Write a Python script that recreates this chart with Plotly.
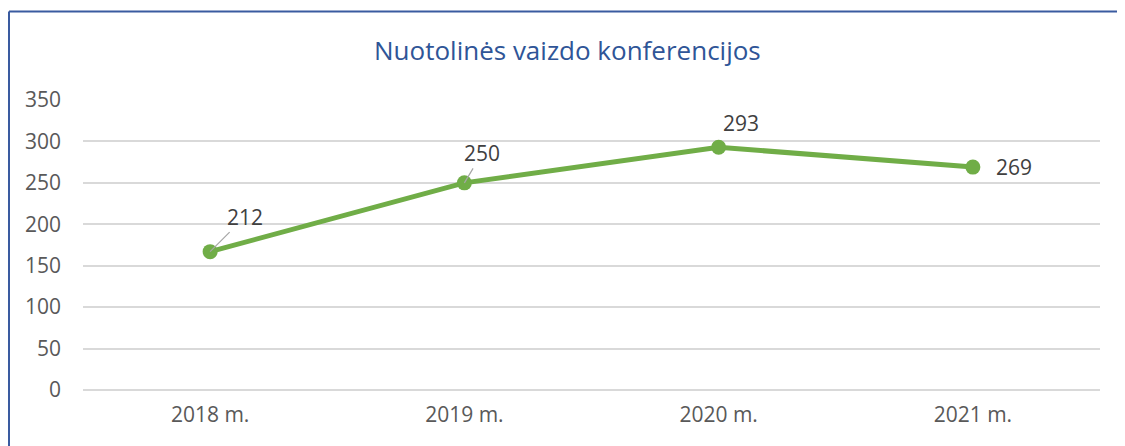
import plotly.graph_objects as go

categories = ["2018 m.", "2019 m.", "2020 m.", "2021 m."]
values = [167, 250, 293, 269]
labels = ["212", "250", "293", "269"]
y_ticks = [0, 50, 100, 150, 200, 250, 300, 350]

title_text = "Nuotolinės vaizdo konferencijos"
FONT = "Open Sans"
GRAY = "#595959"

# page body has an 8px margin; figure coordinates below are relative to the figure
L, T, PW, PH = 75, 92, 1017, 290
W, H = 1117, 438


def px(x):
    return (x - L) / PW


def py(y):
    return (T + PH - y) / PH


fig = go.Figure()
fig.add_trace(go.Scatter(
    x=categories, y=values, mode="lines+markers",
    line=dict(color="#70AD47", width=5),
    marker=dict(color="#70AD47", size=15),
    hoverinfo="skip", showlegend=False,
))

# label offsets (pixels) and whether a leader line is drawn
offsets = [(35, -35, True), (18, -30, True), (22, -24, False), (41, 0, False)]
for cat, v, lab, (dx, dy, lead) in zip(categories, values, labels, offsets):
    if lead:
        fig.add_annotation(x=cat, y=v, text=lab, showarrow=True, ax=dx, ay=dy,
                           arrowhead=0, arrowwidth=1.2, arrowcolor="#A6A6A6",
                           standoff=0, font=dict(family=FONT, size=21, color="#404040"))
    else:
        fig.add_annotation(x=cat, y=v, text=lab, showarrow=False,
                           xshift=dx, yshift=-dy,
                           font=dict(family=FONT, size=21, color="#404040"))

fig.add_annotation(text=title_text, xref="paper", yref="paper",
                   x=px(559), y=py(42), showarrow=False,
                   xanchor="center", yanchor="middle",
                   font=dict(family=FONT, size=26, color="#2F5597"))

# outer frame (top and left lines)
fig.add_shape(type="line", xref="paper", yref="paper",
              x0=px(1), x1=px(W + 5), y0=py(3.5), y1=py(3.5),
              line=dict(color="#3A5BA0", width=2))
fig.add_shape(type="line", xref="paper", yref="paper",
              x0=px(1), x1=px(1), y0=py(3.5), y1=py(H + 5),
              line=dict(color="#3A5BA0", width=2))

fig.update_layout(
    width=W, height=H,
    margin=dict(l=L, r=W - L - PW, t=T, b=H - T - PH),
    paper_bgcolor="white", plot_bgcolor="white",
    font=dict(family=FONT, size=21, color=GRAY),
    xaxis=dict(type="category", range=[-0.5, 3.5], showgrid=False,
               showline=False, ticks="", ticklabelstandoff=10,
               tickfont=dict(size=21, color=GRAY)),
    yaxis=dict(range=[0, 350], tickvals=y_ticks, showgrid=True,
               gridcolor="#D9D9D9", gridwidth=1.5, zeroline=True,
               zerolinecolor="#D9D9D9", zerolinewidth=1.5,
               showline=False, ticks="", ticklen=0, ticklabelstandoff=21,
               tickfont=dict(size=21, color=GRAY)),
)

fig.write_html("out.html")
